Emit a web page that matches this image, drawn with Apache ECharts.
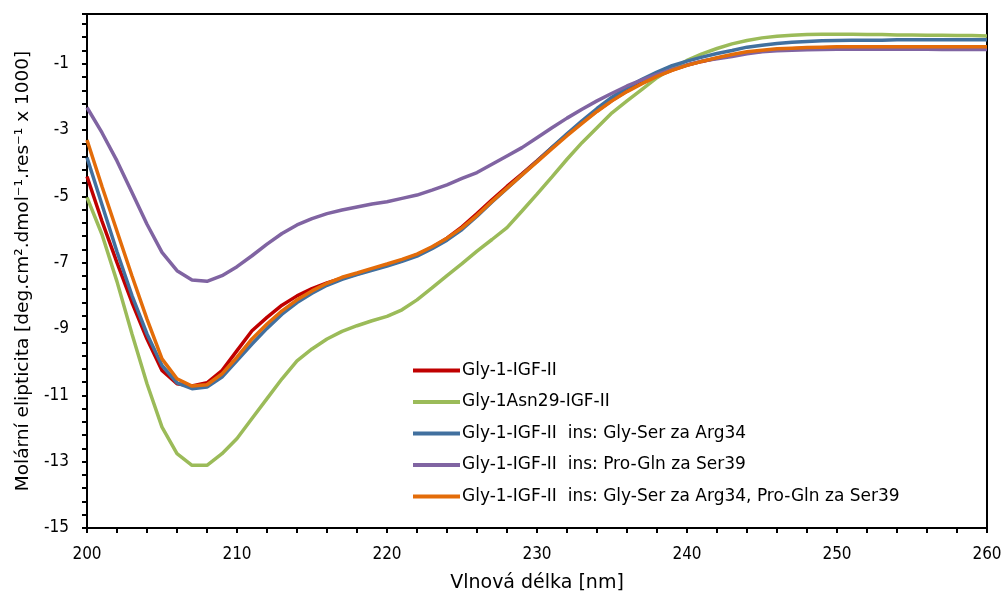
<!DOCTYPE html>
<html>
<head>
<meta charset="utf-8">
<script src="https://cdn.jsdelivr.net/npm/echarts@6/dist/echarts.min.js"></script>
<style>
  html, body { margin: 0; padding: 0; background: #fff; }
  #chart { width: 1003px; height: 594px; }
</style>
</head>
<body>
<div id="chart"></div>
<script>
// Wavelength grid [nm]
const wavelengths = [
  200, 201, 202, 203, 204, 205, 206, 207, 208, 209,
  210, 211, 212, 213, 214, 215, 216, 217, 218, 219,
  220, 221, 222, 223, 224, 225, 226, 227, 228, 229,
  230, 231, 232, 233, 234, 235, 236, 237, 238, 239,
  240, 241, 242, 243, 244, 245, 246, 247, 248, 249,
  250, 251, 252, 253, 254, 255, 256, 257, 258, 259, 260
];

// Molar ellipticity [deg.cm2.dmol-1.res-1 x 1000]
const gly1 = [
  -4.40, -5.75, -7.00, -8.20, -9.30, -10.25, -10.65, -10.72, -10.62, -10.25,
  -9.65, -9.05, -8.65, -8.28, -8.00, -7.78, -7.61, -7.47, -7.34, -7.20,
  -7.07, -6.94, -6.76, -6.54, -6.26, -5.92, -5.52, -5.10, -4.70, -4.32,
  -3.93, -3.53, -3.14, -2.77, -2.42, -2.10, -1.82, -1.58, -1.37, -1.19,
  -1.04, -0.93, -0.83, -0.74, -0.67, -0.62, -0.58, -0.55, -0.53, -0.52,
  -0.51, -0.50, -0.50, -0.50, -0.50, -0.49, -0.49, -0.49, -0.49, -0.49, -0.49
];
const gly1Asn29 = [
  -5.03, -6.15, -7.57, -9.15, -10.65, -11.96, -12.76, -13.11, -13.11, -12.76,
  -12.30, -11.70, -11.10, -10.50, -9.96, -9.60, -9.30, -9.07, -8.90, -8.75,
  -8.62, -8.42, -8.12, -7.76, -7.39, -7.03, -6.65, -6.30, -5.94, -5.44,
  -4.93, -4.41, -3.88, -3.38, -2.93, -2.48, -2.12, -1.77, -1.42, -1.14,
  -0.90, -0.70, -0.54, -0.40, -0.30, -0.22, -0.17, -0.14, -0.12, -0.11,
  -0.11, -0.11, -0.12, -0.12, -0.13, -0.13, -0.14, -0.14, -0.15, -0.15, -0.16
];
const insArg34 = [
  -3.83, -5.25, -6.67, -7.99, -9.15, -10.10, -10.62, -10.80, -10.75, -10.45,
  -9.95, -9.45, -8.98, -8.55, -8.20, -7.92, -7.68, -7.50, -7.36, -7.23,
  -7.10, -6.96, -6.80, -6.58, -6.32, -6.00, -5.60, -5.17, -4.76, -4.35,
  -3.94, -3.52, -3.11, -2.72, -2.35, -2.01, -1.72, -1.47, -1.25, -1.06,
  -0.92, -0.80, -0.69, -0.60, -0.50, -0.44, -0.39, -0.35, -0.33, -0.31,
  -0.30, -0.29, -0.29, -0.29, -0.28, -0.28, -0.28, -0.28, -0.28, -0.28, -0.28
];
const insSer39 = [
  -2.32, -3.08, -3.93, -4.88, -5.84, -6.69, -7.24, -7.52, -7.56, -7.39,
  -7.12, -6.79, -6.44, -6.12, -5.86, -5.67, -5.52, -5.41, -5.32, -5.23,
  -5.16, -5.06, -4.96, -4.81, -4.65, -4.46, -4.28, -4.03, -3.78, -3.53,
  -3.23, -2.93, -2.64, -2.37, -2.12, -1.89, -1.67, -1.49, -1.32, -1.17,
  -1.04, -0.92, -0.85, -0.78, -0.70, -0.64, -0.61, -0.59, -0.58, -0.57,
  -0.56, -0.56, -0.56, -0.56, -0.56, -0.56, -0.56, -0.57, -0.57, -0.57, -0.57
];
const insBoth = [
  -3.30, -4.70, -6.05, -7.40, -8.70, -9.90, -10.50, -10.72, -10.68, -10.35,
  -9.85, -9.30, -8.85, -8.45, -8.12, -7.85, -7.62, -7.44, -7.31, -7.17,
  -7.04, -6.90, -6.74, -6.52, -6.26, -5.95, -5.57, -5.15, -4.75, -4.35,
  -3.96, -3.56, -3.17, -2.80, -2.44, -2.12, -1.84, -1.60, -1.38, -1.20,
  -1.05, -0.93, -0.82, -0.72, -0.64, -0.59, -0.55, -0.53, -0.51, -0.50,
  -0.49, -0.49, -0.49, -0.49, -0.49, -0.49, -0.49, -0.49, -0.49, -0.49, -0.49
];

const seriesNames = [
  'Gly-1-IGF-II',
  'Gly-1Asn29-IGF-II',
  'Gly-1-IGF-II  ins: Gly-Ser za Arg34',
  'Gly-1-IGF-II  ins: Pro-Gln za Ser39',
  'Gly-1-IGF-II  ins: Gly-Ser za Arg34, Pro-Gln za Ser39'
];
const seriesValues = [gly1, gly1Asn29, insArg34, insSer39, insBoth];
const seriesColors = ['#C00000', '#9BBB59', '#41709F', '#8064A2', '#E36C09'];

const tickFont = "'DejaVu Sans Condensed', 'Liberation Sans', sans-serif";
const textFont = "'DejaVu Sans', sans-serif";

const chart = echarts.init(document.getElementById('chart'), null, { renderer: 'canvas' });

const series = seriesValues.map((vals, i) => ({
  name: seriesNames[i],
  type: 'line',
  data: wavelengths.map((w, k) => [w, vals[k]]),
  showSymbol: false,
  symbol: 'none',
  smooth: false,
  lineStyle: { color: seriesColors[i], width: 3.5 },
  itemStyle: { color: seriesColors[i] },
  emphasis: { disabled: true },
  animation: false,
  z: 2 + i
}));

chart.setOption({
  backgroundColor: '#fff',
  animation: false,
  grid: {
    left: 87, right: 16, top: 14, bottom: 66,
    containLabel: false,
    outerBoundsMode: 'none',
    show: true, borderColor: '#000', borderWidth: 2, backgroundColor: 'transparent'
  },
  legend: {
    orient: 'vertical',
    left: 408,
    top: 357,
    icon: 'rect',
    itemWidth: 47,
    itemHeight: 4,
    itemGap: 14.5,
    textStyle: { fontFamily: textFont, fontSize: 17, color: '#000', padding: [0, 0, 0, -3] },
    data: seriesNames
  },
  xAxis: {
    type: 'value',
    min: 200, max: 260, interval: 10,
    name: 'Vlnová délka [nm]',
    nameLocation: 'middle',
    nameGap: 46,
    nameTextStyle: { fontFamily: textFont, fontSize: 19, color: '#000' },
    axisLine: { show: true, onZero: false, lineStyle: { color: '#000', width: 2 } },
    axisTick: { show: true, inside: false, length: 5, lineStyle: { color: '#000', width: 2 } },
    minorTick: { show: true, splitNumber: 5, length: 5, lineStyle: { color: '#000', width: 2 } },
    axisLabel: { fontFamily: tickFont, fontSize: 17, color: '#000', margin: 18 },
    splitLine: { show: false }
  },
  yAxis: {
    type: 'value',
    min: -15, max: 0.5, interval: 2,
    name: 'Molární elipticita [deg.cm².dmol⁻¹.res⁻¹ x 1000]',
    nameLocation: 'middle',
    nameRotate: 90,
    nameGap: 54,
    nameTextStyle: { fontFamily: textFont, fontSize: 18.5, color: '#000' },
    axisLine: { show: true, onZero: false, lineStyle: { color: '#000', width: 2 } },
    axisTick: { show: true, inside: false, length: 5, lineStyle: { color: '#000', width: 2 } },
    minorTick: { show: true, splitNumber: 5, length: 5, lineStyle: { color: '#000', width: 2 } },
    axisLabel: { fontFamily: tickFont, fontSize: 17, color: '#000', margin: 18, showMaxLabel: false },
    splitLine: { show: false }
  },
  series: series
});
</script>
</body>
</html>
